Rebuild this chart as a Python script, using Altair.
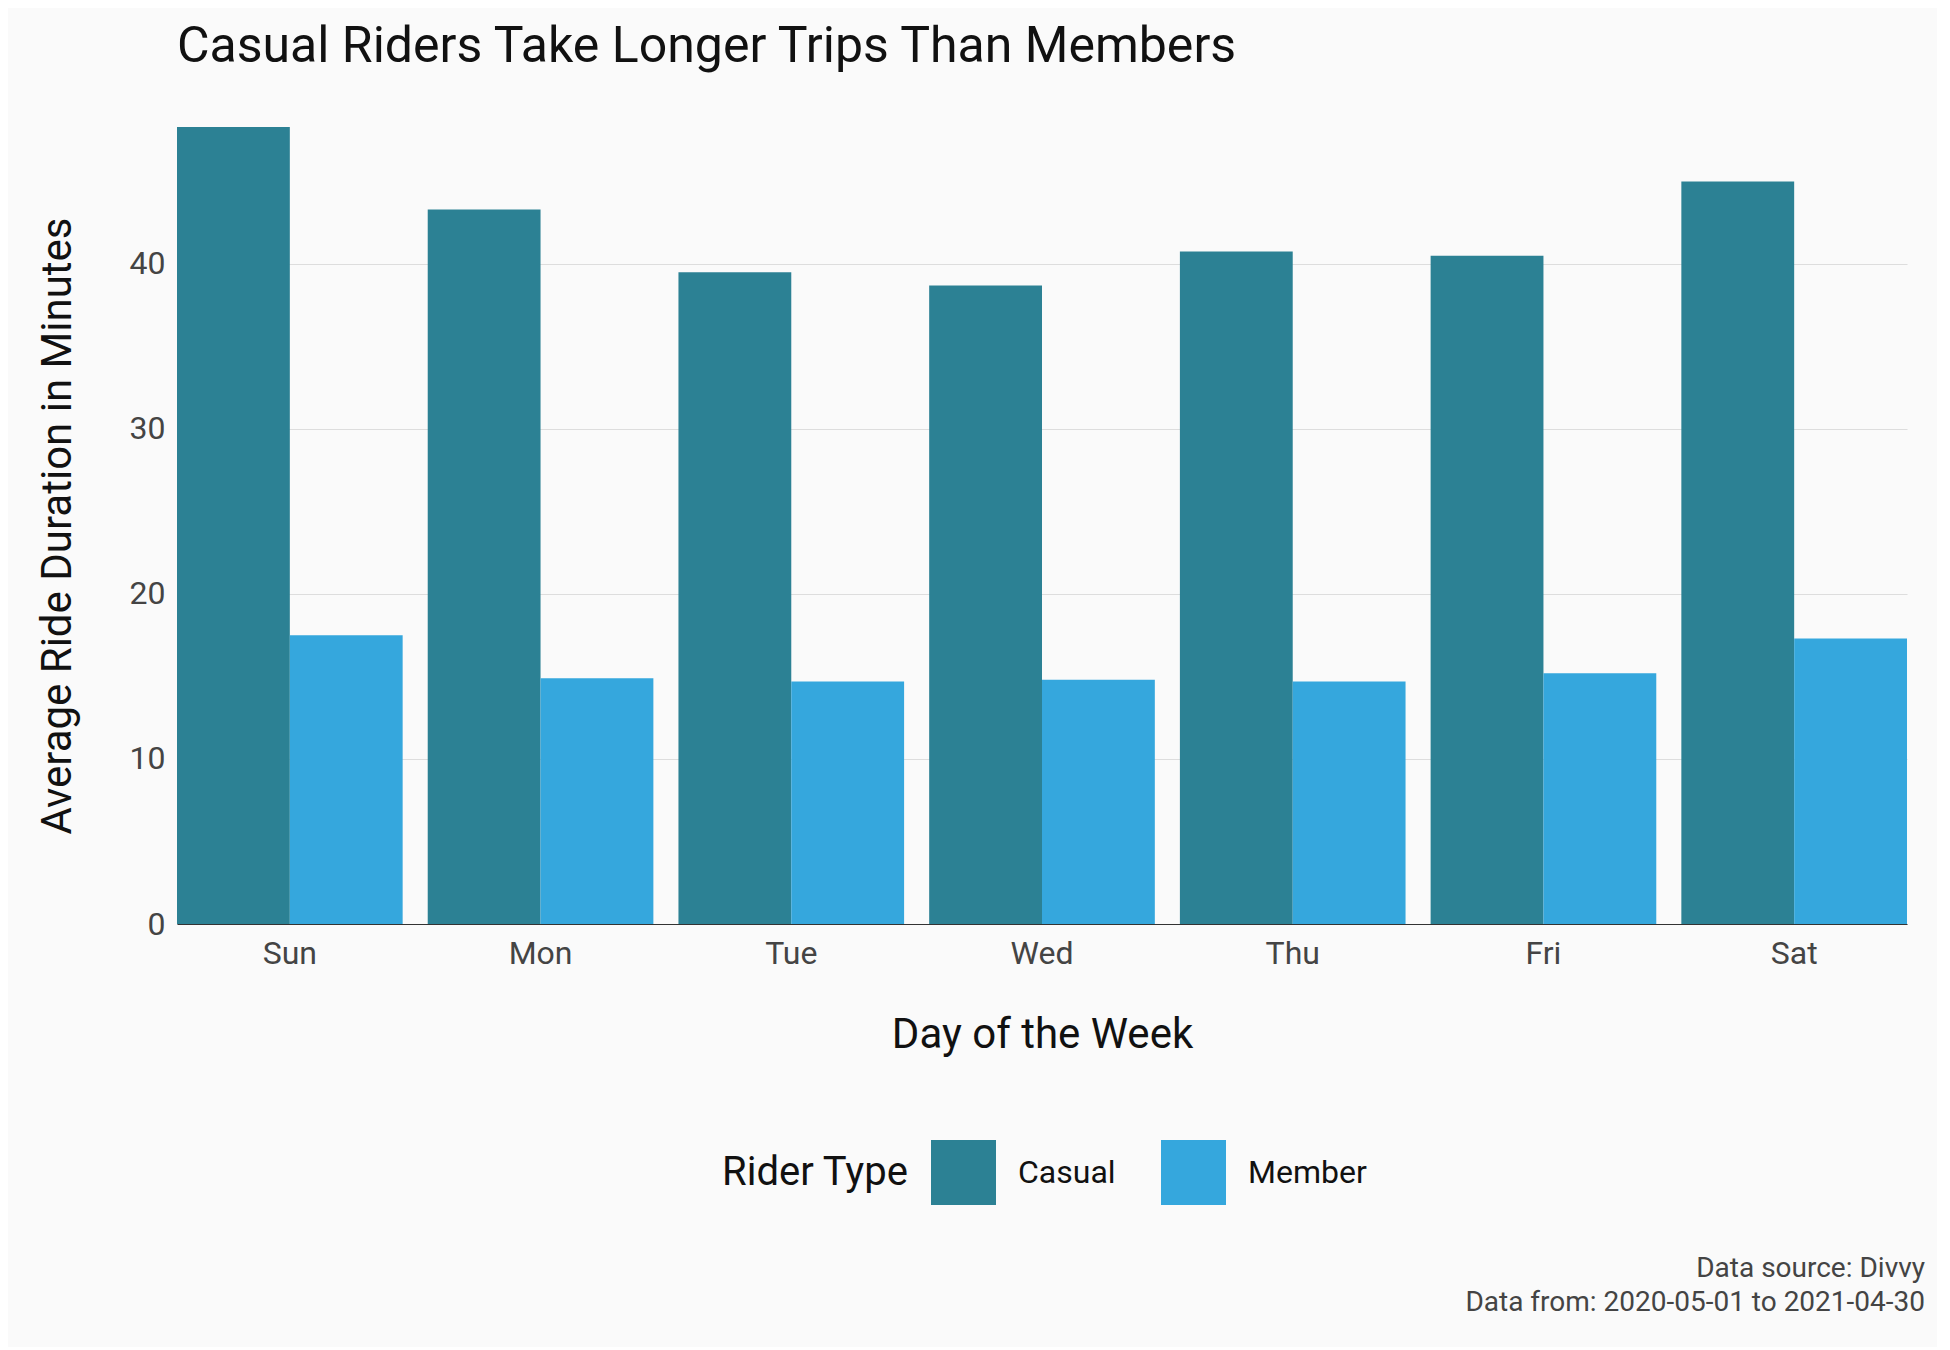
import pandas as pd
import altair as alt

days = ["Sun", "Mon", "Tue", "Wed", "Thu", "Fri", "Sat"]
casual = [48.3, 43.3, 39.5, 38.7, 40.75, 40.5, 45.0]
member = [17.5, 14.9, 14.7, 14.8, 14.7, 15.2, 17.3]

df = pd.DataFrame({
    "day": days * 2,
    "rider": ["Casual"] * 7 + ["Member"] * 7,
    "minutes": casual + member,
})

FONT = "Roboto"

bars = (
    alt.Chart(df)
    .mark_bar()
    .encode(
        alt.X("day:N", sort=days,
              scale=alt.Scale(paddingInner=0.1, paddingOuter=0),
              axis=alt.Axis(title="Day of the Week", labelAngle=0, ticks=False,
                            labelPadding=14, titlePadding=45, domainColor="#333333")),
        alt.XOffset("rider:N"),
        alt.Y("minutes:Q", scale=alt.Scale(domain=[0, 48.3], nice=False),
              axis=alt.Axis(title="Average Ride Duration in Minutes", values=[0, 10, 20, 30, 40],
                            ticks=False, domain=False, labelPadding=12, titlePadding=50,
                            gridColor="#dddddd")),
        alt.Color("rider:N",
                  scale=alt.Scale(domain=["Casual", "Member"], range=["#2c8194", "#35a7dd"]),
                  legend=alt.Legend(title="Rider Type", orient="none", direction="horizontal",
                                    legendX=545, legendY=1013,
                                    titleOrient="left", titleLimit=400, symbolType="square",
                                    symbolSize=4225, symbolStrokeWidth=0, labelOffset=22,
                                    columnPadding=45, titlePadding=22)),
    )
)

caption = alt.Chart(pd.DataFrame({"t": ["Data source: Divvy", "Data from: 2020-05-01 to 2021-04-30"],
                                  "yy": [1142, 1176]})).mark_text(
    align="right", baseline="middle", fontSize=28, font=FONT, color="#444444"
).encode(x=alt.value(1748), y=alt.Y("yy:Q", scale=None), text="t:N")

chart = (
    alt.layer(bars, caption)
    .properties(
        width=1730, height=797, background="#fafafa",
        padding={"left": 28, "top": 14, "right": 12, "bottom": 30},
        title=alt.TitleParams("Casual Riders Take Longer Trips Than Members", anchor="start",
                              frame="group", fontSize=50, font=FONT, fontWeight="normal",
                              color="#111111", offset=55),
    )
    .configure_view(stroke=None)
    .configure_axis(labelFont=FONT, titleFont=FONT, labelFontSize=32, titleFontSize=42,
                    labelColor="#444444", titleColor="#111111", titleFontWeight="normal")
    .configure_legend(labelFont=FONT, titleFont=FONT, labelFontSize=32, titleFontSize=40,
                      titleFontWeight="normal", labelColor="#111111", titleColor="#111111")
)

chart.save("out.html", embed_options={"renderer": "svg", "actions": False})
